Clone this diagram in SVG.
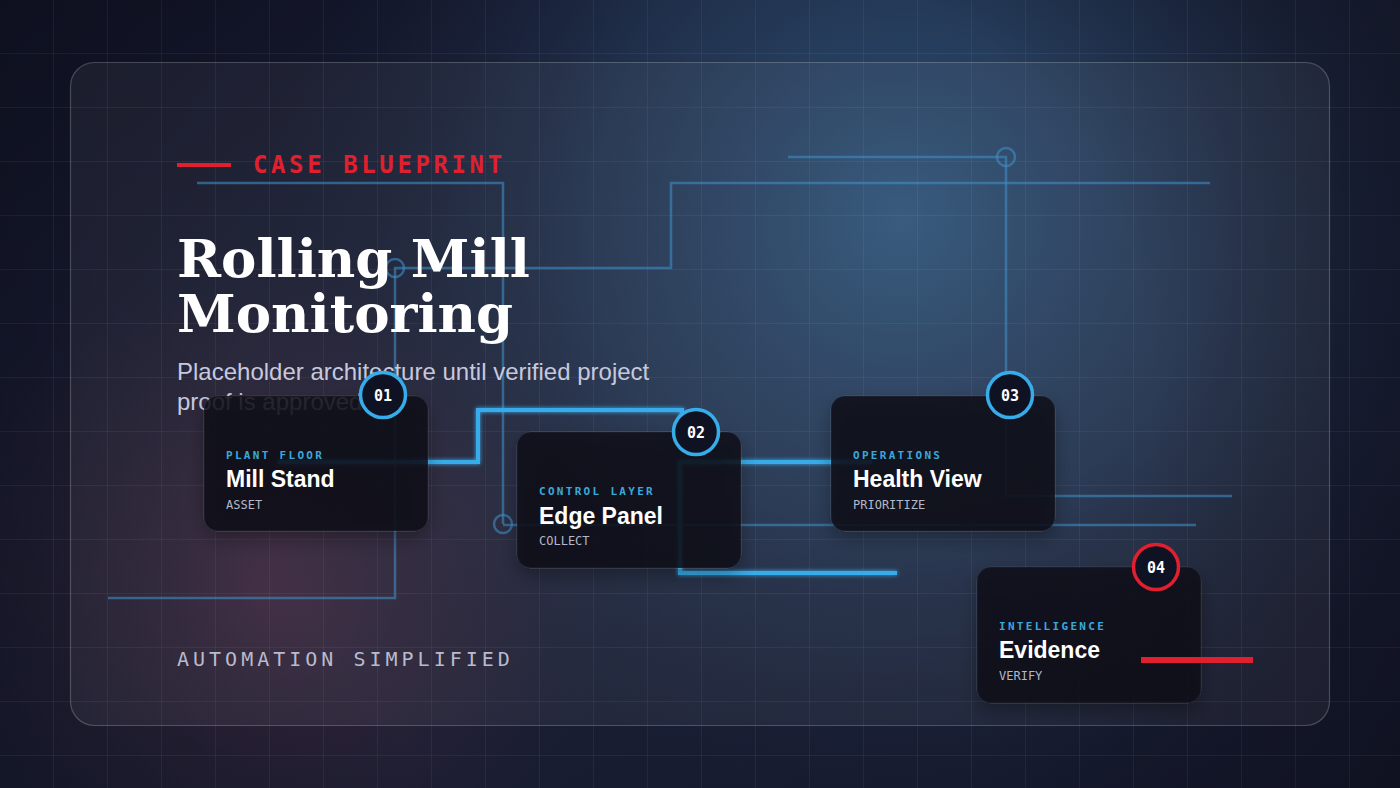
<svg xmlns="http://www.w3.org/2000/svg" width="1400" height="788" viewBox="0 0 1400 788">
  <defs>
    <linearGradient id="bgBase" x1="0" y1="0" x2="1" y2="1">
      <stop offset="0" stop-color="#111326"/>
      <stop offset="0.5" stop-color="#1a2036"/>
      <stop offset="1" stop-color="#14172a"/>
    </linearGradient>
    <radialGradient id="glowBlue" cx="900" cy="220" r="620" gradientUnits="userSpaceOnUse">
      <stop offset="0" stop-color="#30567c" stop-opacity="0.95"/>
      <stop offset="0.5" stop-color="#284263" stop-opacity="0.55"/>
      <stop offset="1" stop-color="#1a2036" stop-opacity="0"/>
    </radialGradient>
    <radialGradient id="glowRed" cx="260" cy="590" r="360" gradientUnits="userSpaceOnUse">
      <stop offset="0" stop-color="#4a2840" stop-opacity="0.7"/>
      <stop offset="0.6" stop-color="#3a2438" stop-opacity="0.3"/>
      <stop offset="1" stop-color="#2a2036" stop-opacity="0"/>
    </radialGradient>
    <radialGradient id="vignette" cx="700" cy="394" r="820" gradientUnits="userSpaceOnUse">
      <stop offset="0.55" stop-color="#0c0e1a" stop-opacity="0"/>
      <stop offset="1" stop-color="#0c0e1a" stop-opacity="0.55"/>
    </radialGradient>
    <pattern id="grid" width="54" height="54" patternUnits="userSpaceOnUse">
      <path d="M54 0 V54 M0 54 H54" fill="none" stroke="#ffffff" stroke-opacity="0.1" stroke-width="1"/>
    </pattern>
    <filter id="shadow" x="-20%" y="-20%" width="140%" height="150%">
      <feDropShadow dx="0" dy="8" stdDeviation="9" flood-color="#000000" flood-opacity="0.35"/>
    </filter>
    <filter id="glow" x="-10%" y="-10%" width="120%" height="120%">
      <feGaussianBlur stdDeviation="2" result="b"/>
      <feMerge><feMergeNode in="b"/><feMergeNode in="SourceGraphic"/></feMerge>
    </filter>
    <style>
      .deco { fill: none; stroke: #3f8cc4; stroke-opacity: 0.6; stroke-width: 2.5; }
      .wire { fill: none; stroke: #37acea; stroke-width: 4; }
      .card { fill: #0d0f1b; fill-opacity: 0.86; stroke: #ffffff; stroke-opacity: 0.06; stroke-width: 1; }
      .badge { fill: #0e1222; stroke: #37acea; stroke-width: 3.5; }
      .badge.red { stroke: #e0202e; }
      .num { font-family: "DejaVu Sans Mono", monospace; font-weight: bold; font-size: 15px; fill: #ffffff; text-anchor: middle; }
      .lbl { font-family: "DejaVu Sans Mono", monospace; font-weight: bold; font-size: 11px; letter-spacing: 2.3px; fill: #3aa8dc; }
      .ttl { font-family: "Liberation Sans", Arial, sans-serif; font-weight: bold; font-size: 23px; fill: #ffffff; }
      .sub { font-family: "DejaVu Sans Mono", monospace; font-size: 12px; fill: #b4b8c8; }
    </style>
  </defs>

  <!-- background -->
  <rect width="1400" height="788" fill="url(#bgBase)"/>
  <rect width="1400" height="788" fill="url(#glowBlue)"/>
  <rect width="1400" height="788" fill="url(#glowRed)"/>
  <rect width="1400" height="788" fill="url(#vignette)"/>
  <rect width="1400" height="788" fill="url(#grid)"/>

  <!-- panel -->
  <rect x="70.5" y="62.5" width="1259" height="663" rx="24" fill="#ffffff" fill-opacity="0.05" stroke="#ffffff" stroke-opacity="0.22" stroke-width="1.2"/>

  <!-- decorative circuit lines -->
  <g id="deco">
    <path class="deco" d="M197 183 H503 V524"/>
    <circle class="deco" cx="503" cy="524" r="9"/>
    <path class="deco" d="M503 525 H1196"/>
    <path class="deco" d="M788 157 H1006 V496 H1232"/>
    <circle class="deco" cx="1006" cy="157" r="9"/>
    <path class="deco" d="M108 598 H395 V268 H671 V183 H1210"/>
    <circle class="deco" cx="395" cy="268" r="9"/>
  </g>

  <!-- header texts -->
  <rect x="177" y="163" width="54" height="4" fill="#e0202e"/>
  <text x="253" y="173" font-family="'DejaVu Sans Mono', monospace" font-weight="bold" font-size="24" letter-spacing="3.6" fill="#e0202e">CASE BLUEPRINT</text>
  <text font-family="'DejaVu Serif', Georgia, serif" font-weight="bold" font-size="53" fill="#ffffff" letter-spacing="0">
    <tspan x="177" y="277">Rolling Mill</tspan>
    <tspan x="177" y="332">Monitoring</tspan>
  </text>
  <text font-family="'Liberation Sans', Arial, sans-serif" font-size="24" fill="#c6c9de">
    <tspan x="177" y="380">Placeholder architecture until verified project</tspan>
    <tspan x="177" y="410">proof is approved.</tspan>
  </text>
  <text x="177" y="666" font-family="'DejaVu Sans Mono', monospace" font-size="20" letter-spacing="4" fill="#b8bbcc">AUTOMATION SIMPLIFIED</text>

  <!-- connectors -->
  <g id="connectors" filter="url(#glow)">
    <path class="wire" d="M278 462 H478 V410 H682 V432"/>
    <path class="wire" d="M872 462 H680 V573 H897"/>
  </g>

  <!-- nodes -->
  <g id="node-01">
    <rect class="card" x="204" y="396" width="224" height="135" rx="14" filter="url(#shadow)"/>
    <text class="lbl" x="226" y="459">PLANT FLOOR</text>
    <text class="ttl" x="226" y="487">Mill Stand</text>
    <text class="sub" x="226" y="509">ASSET</text>
    <circle class="badge" cx="383" cy="395" r="22.5"/>
    <text class="num" x="383" y="400.5">01</text>
  </g>

  <g id="node-02">
    <rect class="card" x="517" y="432" width="224" height="136" rx="14" filter="url(#shadow)"/>
    <text class="lbl" x="539" y="495">CONTROL LAYER</text>
    <text class="ttl" x="539" y="524">Edge Panel</text>
    <text class="sub" x="539" y="545">COLLECT</text>
    <circle class="badge" cx="696" cy="432" r="22.5"/>
    <text class="num" x="696" y="437.5">02</text>
  </g>

  <g id="node-03">
    <rect class="card" x="831" y="396" width="224" height="135" rx="14" filter="url(#shadow)"/>
    <text class="lbl" x="853" y="459">OPERATIONS</text>
    <text class="ttl" x="853" y="487">Health View</text>
    <text class="sub" x="853" y="509">PRIORITIZE</text>
    <circle class="badge" cx="1010" cy="395" r="22.5"/>
    <text class="num" x="1010" y="400.5">03</text>
  </g>

  <g id="node-04">
    <rect class="card" x="977" y="567" width="224" height="136" rx="14" filter="url(#shadow)"/>
    <text class="lbl" x="999" y="630">INTELLIGENCE</text>
    <text class="ttl" x="999" y="658">Evidence</text>
    <text class="sub" x="999" y="680">VERIFY</text>
    <circle class="badge red" cx="1156" cy="567" r="22.5"/>
    <text class="num" x="1156" y="572.5">04</text>
  </g>

  <rect x="1141" y="657" width="112" height="6" fill="#e0202e"/>
</svg>
